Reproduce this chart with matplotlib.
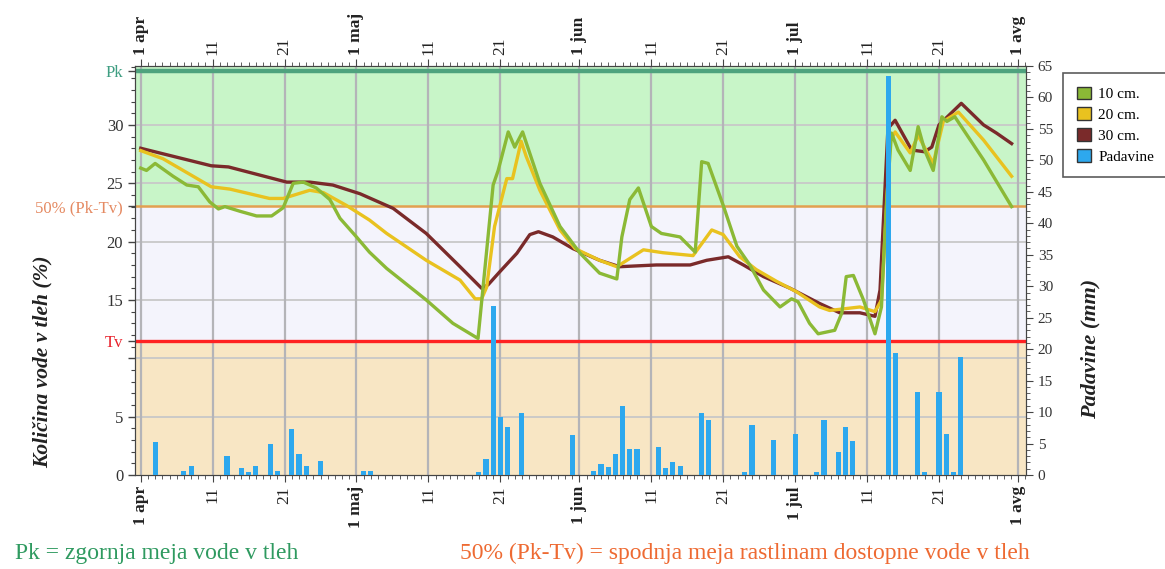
import matplotlib
matplotlib.use("Agg")
import matplotlib.pyplot as plt
from matplotlib.patches import Patch
from matplotlib.ticker import MultipleLocator, FixedLocator

plt.rcParams['font.family'] = ['Liberation Serif', 'DejaVu Serif']

# ---- data (day offset from 1 April) ----
days_10 = [0, 0.8, 2, 4.5, 6.4, 8, 9.6, 10.8, 11.7, 13.8, 16.1, 18.2, 19.8, 21.2, 22.6, 24.4,
           26.3, 27.7, 30, 31.8, 34.2, 39.7, 43.4, 46.9, 49.0, 49.7, 51.1, 52.0, 53.1, 55.5,
           58.3, 61.1, 63.8, 66.2, 66.9, 68.0, 69.2, 71.0, 72.4, 75.0, 77.1, 78.0, 78.9, 81.0,
           82.9, 84.7, 86.6, 88.9, 90.5, 91.4, 93.0, 94.2, 96.5, 97.5, 98.1, 99.1, 100.5,
           102.1, 103.0, 103.7, 104.4, 105.3, 107.0, 108.1, 109.0, 110.2, 111.4, 112.1,
           113.2, 117.2, 121.1]
vals_10 = [26.3, 26.1, 26.7, 25.6, 24.85, 24.7, 23.4, 22.8, 23.0, 22.6, 22.2, 22.2, 22.9, 25.0,
           25.1, 24.6, 23.6, 22.0, 20.4, 19.1, 17.7, 15.0, 13.0, 11.7, 24.85, 26.1, 29.4,
           28.1, 29.4, 25.0, 21.3, 19.0, 17.3, 16.8, 20.4, 23.6, 24.6, 21.3, 20.7, 20.4,
           19.1, 26.85, 26.7, 23.1, 19.6, 18.0, 15.85, 14.4, 15.1, 14.85, 13.0, 12.1, 12.4,
           13.9, 17.0, 17.1, 15.0, 12.1, 14.4, 23.3, 29.3, 27.85, 26.1, 29.85, 27.85, 26.1,
           30.7, 30.3, 30.7, 27.0, 23.0]

days_20 = [0, 3.1, 9.8, 12.4, 17.9, 19.8, 23.5, 25.4, 28.6, 31.8, 34.2, 39.7, 44.4, 46.5,
           47.4, 48.1, 49.2, 50.9, 51.7, 52.9, 53.6, 55.5, 58.3, 60.4, 63.8, 66.2, 69.9,
           72.6, 76.8, 79.4, 81.0, 83.3, 85.6, 88.4, 91.2, 94.4, 95.8, 100.0, 102.1, 103.0,
           104.2, 104.9, 107.0, 108.1, 110.2, 111.6, 113.7, 117.2, 121.1]
vals_20 = [27.8, 27.1, 24.7, 24.5, 23.7, 23.7, 24.4, 24.2, 23.1, 21.85, 20.7, 18.4, 16.7,
           15.1, 15.1, 16.1, 21.3, 25.4, 25.4, 28.6, 27.3, 24.4, 21.0, 19.4, 18.4, 17.85,
           19.3, 19.05, 18.8, 21.0, 20.6, 18.7, 17.6, 16.6, 15.7, 14.4, 14.1, 14.4, 14.0,
           15.0, 28.6, 29.4, 27.6, 29.1, 26.7, 30.3, 31.1, 28.7, 25.6]

days_30 = [0, 9.8, 12.2, 20.3, 23.5, 26.7, 30.5, 35.1, 39.7, 44.4, 47.4, 48.3, 49.9, 52.3,
           54.1, 55.3, 57.3, 60.1, 63.8, 66.6, 71.7, 76.4, 78.7, 81.7, 83.8, 86.6, 90.3,
           94.4, 97.2, 100, 102.1, 102.8, 103.9, 104.9, 105.8, 107.2, 109.0, 110, 111,
           114.1, 117.2, 119.0, 121.1]
vals_30 = [28.0, 26.5, 26.4, 25.1, 25.1, 24.85, 24.1, 22.85, 20.7, 17.85, 16.0, 16.3, 17.4,
           19.0, 20.6, 20.85, 20.4, 19.4, 18.4, 17.85, 18.0, 18.0, 18.4, 18.7, 18.0, 17.0,
           16.0, 14.7, 13.9, 13.9, 13.6, 15.85, 29.7, 30.4, 29.4, 27.85, 27.7, 28.1, 30.0,
           31.85, 30.0, 29.3, 28.4]

rain_days = [2, 6, 7, 12, 14, 15, 16, 18, 19, 21, 22, 23, 25, 31, 32, 47, 48, 49, 50, 51, 53,
             60, 63, 64, 65, 66, 67, 68, 69, 72, 73, 74, 75, 78, 79, 84, 85, 88, 91, 94, 95,
             97, 98, 99, 104, 105, 108, 109, 111, 112, 113, 114]
rain_mm = [5.3, 0.7, 1.4, 3.0, 1.1, 0.4, 1.4, 4.9, 0.7, 7.3, 3.4, 1.5, 2.2, 0.7, 0.6, 0.4,
           2.6, 26.9, 9.2, 7.6, 9.9, 6.3, 0.6, 1.8, 1.2, 3.4, 10.9, 4.2, 4.2, 4.5, 1.1, 2.1,
           1.4, 9.9, 8.7, 0.4, 8.0, 5.6, 6.5, 0.4, 8.7, 3.7, 7.7, 5.4, 63.4, 19.4, 13.2, 0.4,
           13.2, 6.5, 0.4, 18.7]

Pk = 34.6
Tv = 11.5
half = (Pk + Tv) / 2

tick_days = [0, 10, 20, 30, 40, 50, 61, 71, 81, 91, 101, 111, 122]
tick_labels = ["1 apr", "11", "21", "1 maj", "11", "21", "1 jun", "11", "21", "1 jul", "11", "21", "1 avg"]

series_names = ["10 cm.", "20 cm.", "30 cm.", "Padavine"]
c10, c20, c30, crain = "#8BB936", "#E9C21F", "#7A2A2A", "#2DA8EE"

W, H = 1165, 569
fig = plt.figure(figsize=(W / 100, H / 100), dpi=100)
L, R, B, T = 135 / W, 1026 / W, 1 - 475 / H, 1 - 66 / H
ax = fig.add_axes([L, B, R - L, T - B])
ax.set_xlim(-0.8, 123.1)
ax.set_ylim(0, 35.05)

ax.axhspan(half, 36, color="#C8F5C8", zorder=0, lw=0)
ax.axhspan(Tv, half, color="#F4F4FC", zorder=0, lw=0)
ax.axhspan(0, Tv, color="#F8E6C4", zorder=0, lw=0)

for yv in [5, 10, 15, 20, 25, 30]:
    ax.axhline(yv, color="#C8C8C8", lw=1.3, zorder=1)
for xv in tick_days:
    ax.axvline(xv, color="#B4B4B8", lw=1.6, zorder=1)

ax.axhline(Pk, color="#4FA37E", lw=3.2, zorder=2)
ax.axhline(half, color="#E2A050", lw=1.8, zorder=2)
ax.axhline(Tv, color="#FF2222", lw=2.4, zorder=2)

ax.plot(days_30, vals_30, color=c30, lw=2.4, zorder=3)
ax.plot(days_20, vals_20, color=c20, lw=2.4, zorder=4)
ax.plot(days_10, vals_10, color=c10, lw=2.4, zorder=5)

# y ticks left
yt = [0, 5, 10, Tv, 15, 20, half, 25, 30, Pk]
ytl = ["0", "5", "", "Tv", "15", "20", "50% (Pk-Tv)", "25", "30", "Pk"]
ax.yaxis.set_major_locator(FixedLocator(yt))
ax.set_yticklabels(ytl)
ax.yaxis.set_minor_locator(MultipleLocator(1))
for lab, txt in zip(ax.get_yticklabels(), ytl):
    lab.set_fontsize(12)
    if txt == "Tv":
        lab.set_color("#E8202A")
    elif txt.startswith("50%"):
        lab.set_color("#E58A62")
    elif txt == "Pk":
        lab.set_color("#3F9E82")
    else:
        lab.set_color("#333333")
ax.tick_params(axis="y", which="major", length=5, width=1, color="#444444", direction="out")
ax.tick_params(axis="y", which="minor", length=3, width=0.8, color="#444444", direction="out")

# x ticks (top and bottom)
ax.set_xticks(tick_days)
ax.set_xticklabels(tick_labels, rotation=90)
ax.xaxis.set_minor_locator(MultipleLocator(1))
ax.tick_params(axis="x", which="both", top=True, labeltop=True, bottom=True, labelbottom=True,
               direction="out", color="#444444")
ax.tick_params(axis="x", which="major", length=5, labelsize=12.5, pad=3, labelcolor="#222222")
ax.tick_params(axis="x", which="minor", length=3)
for tk in ax.xaxis.get_major_ticks():
    if tk.label1.get_text().startswith("1 "):
        tk.label1.set_fontweight("bold")
        tk.label2.set_fontweight("bold")
for sp in ax.spines.values():
    sp.set_color("#444444")

# rain bars on twin axis
ax2 = ax.twinx()
ax2.set_ylim(0, 65)
ax2.bar(rain_days, rain_mm, width=0.72, color=crain, zorder=6)
ax2.yaxis.set_major_locator(MultipleLocator(5))
ax2.yaxis.set_minor_locator(MultipleLocator(1))
ax2.tick_params(axis="y", which="major", length=5, labelsize=11, labelcolor="#333333",
                color="#444444")
ax2.tick_params(axis="y", which="minor", length=3, color="#444444")
for sp in ax2.spines.values():
    sp.set_color("#444444")

fig.text(43 / W, 1 - 362 / H, "Količina vode v tleh (%)", rotation=90, ha="center", va="center",
         fontsize=15.5, fontweight="bold", fontstyle="italic", color="#222222")
fig.text(1090 / W, 1 - 349 / H, "Padavine (mm)", rotation=90, ha="center", va="center",
         fontsize=16, fontweight="bold", fontstyle="italic", color="#222222")

handles = [Patch(facecolor=c, edgecolor="#333333", lw=1) for c in [c10, c20, c30, crain]]
leg = fig.legend(handles, series_names, loc="upper left", bbox_to_anchor=(1063 / W, 1 - 73 / H),
                 frameon=True, fancybox=False, edgecolor="#333333", fontsize=11,
                 handlelength=0.9, handleheight=0.9, handletextpad=0.5, labelspacing=0.4,
                 borderpad=0.9, borderaxespad=0)
leg.get_frame().set_linewidth(1.2)

fig.text(15 / W, 1 - 553 / H, "Pk = zgornja meja vode v tleh", ha="left", va="center",
         fontsize=17, color="#2F9A60")
fig.text(1030 / W, 1 - 553 / H, "50% (Pk-Tv) = spodnja meja rastlinam dostopne vode v tleh",
         ha="right", va="center", fontsize=17, color="#EE6A32")

fig.savefig("out.png", dpi=100)
